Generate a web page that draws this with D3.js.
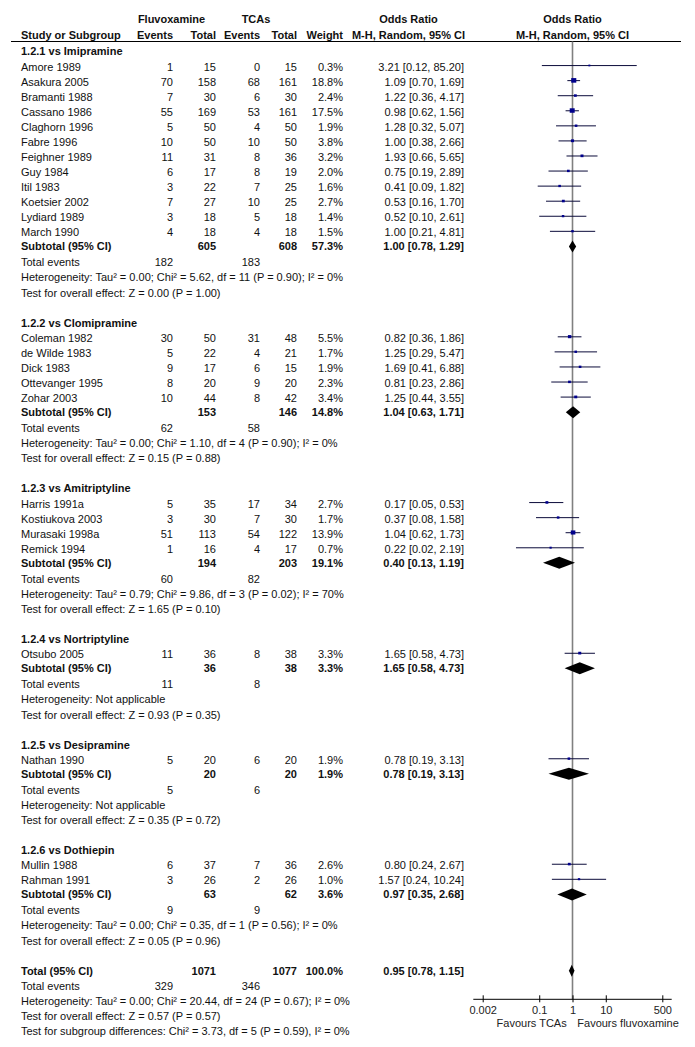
<!DOCTYPE html>
<html><head><meta charset="utf-8">
<script src="https://cdn.jsdelivr.net/npm/d3@7"></script>
<style>
body{margin:0;background:#fff}
svg text{font-family:"Liberation Sans",Arial,sans-serif;font-size:11px;fill:#111}
svg text.b{font-weight:bold}
</style>
</head><body><svg id="c" width="695" height="1047"></svg>
<script>
// ---------------- DATA ----------------
const groupLabels = ["1.2.1 vs Imipramine","1.2.2 vs Clomipramine","1.2.3 vs Amitriptyline","1.2.4 vs Nortriptyline","1.2.5 vs Desipramine","1.2.6 vs Dothiepin"];

const studies = [
  {g:0,name:"Amore 1989",e1:1,n1:15,e2:0,n2:15,w:0.3,or:3.21,lo:0.12,hi:85.20},
  {g:0,name:"Asakura 2005",e1:70,n1:158,e2:68,n2:161,w:18.8,or:1.09,lo:0.70,hi:1.69},
  {g:0,name:"Bramanti 1988",e1:7,n1:30,e2:6,n2:30,w:2.4,or:1.22,lo:0.36,hi:4.17},
  {g:0,name:"Cassano 1986",e1:55,n1:169,e2:53,n2:161,w:17.5,or:0.98,lo:0.62,hi:1.56},
  {g:0,name:"Claghorn 1996",e1:5,n1:50,e2:4,n2:50,w:1.9,or:1.28,lo:0.32,hi:5.07},
  {g:0,name:"Fabre 1996",e1:10,n1:50,e2:10,n2:50,w:3.8,or:1.00,lo:0.38,hi:2.66},
  {g:0,name:"Feighner 1989",e1:11,n1:31,e2:8,n2:36,w:3.2,or:1.93,lo:0.66,hi:5.65},
  {g:0,name:"Guy 1984",e1:6,n1:17,e2:8,n2:19,w:2.0,or:0.75,lo:0.19,hi:2.89},
  {g:0,name:"Itil 1983",e1:3,n1:22,e2:7,n2:25,w:1.6,or:0.41,lo:0.09,hi:1.82},
  {g:0,name:"Koetsier 2002",e1:7,n1:27,e2:10,n2:25,w:2.7,or:0.53,lo:0.16,hi:1.70},
  {g:0,name:"Lydiard 1989",e1:3,n1:18,e2:5,n2:18,w:1.4,or:0.52,lo:0.10,hi:2.61},
  {g:0,name:"March 1990",e1:4,n1:18,e2:4,n2:18,w:1.5,or:1.00,lo:0.21,hi:4.81},
  {g:1,name:"Coleman 1982",e1:30,n1:50,e2:31,n2:48,w:5.5,or:0.82,lo:0.36,hi:1.86},
  {g:1,name:"de Wilde 1983",e1:5,n1:22,e2:4,n2:21,w:1.7,or:1.25,lo:0.29,hi:5.47},
  {g:1,name:"Dick 1983",e1:9,n1:17,e2:6,n2:15,w:1.9,or:1.69,lo:0.41,hi:6.88},
  {g:1,name:"Ottevanger 1995",e1:8,n1:20,e2:9,n2:20,w:2.3,or:0.81,lo:0.23,hi:2.86},
  {g:1,name:"Zohar 2003",e1:10,n1:44,e2:8,n2:42,w:3.4,or:1.25,lo:0.44,hi:3.55},
  {g:2,name:"Harris 1991a",e1:5,n1:35,e2:17,n2:34,w:2.7,or:0.17,lo:0.05,hi:0.53},
  {g:2,name:"Kostiukova 2003",e1:3,n1:30,e2:7,n2:30,w:1.7,or:0.37,lo:0.08,hi:1.58},
  {g:2,name:"Murasaki 1998a",e1:51,n1:113,e2:54,n2:122,w:13.9,or:1.04,lo:0.62,hi:1.73},
  {g:2,name:"Remick 1994",e1:1,n1:16,e2:4,n2:17,w:0.7,or:0.22,lo:0.02,hi:2.19},
  {g:3,name:"Otsubo 2005",e1:11,n1:36,e2:8,n2:38,w:3.3,or:1.65,lo:0.58,hi:4.73},
  {g:4,name:"Nathan 1990",e1:5,n1:20,e2:6,n2:20,w:1.9,or:0.78,lo:0.19,hi:3.13},
  {g:5,name:"Mullin 1988",e1:6,n1:37,e2:7,n2:36,w:2.6,or:0.80,lo:0.24,hi:2.67},
  {g:5,name:"Rahman 1991",e1:3,n1:26,e2:2,n2:26,w:1.0,or:1.57,lo:0.24,hi:10.24}
];

const subtotals = [
  {n1:605,n2:608,w:57.3,or:1.00,lo:0.78,hi:1.29,ev1:182,ev2:183},
  {n1:153,n2:146,w:14.8,or:1.04,lo:0.63,hi:1.71,ev1:62,ev2:58},
  {n1:194,n2:203,w:19.1,or:0.40,lo:0.13,hi:1.19,ev1:60,ev2:82},
  {n1:36,n2:38,w:3.3,or:1.65,lo:0.58,hi:4.73,ev1:11,ev2:8},
  {n1:20,n2:20,w:1.9,or:0.78,lo:0.19,hi:3.13,ev1:5,ev2:6},
  {n1:63,n2:62,w:3.6,or:0.97,lo:0.35,hi:2.68,ev1:9,ev2:9}
];

const heterogeneity = [
  "Heterogeneity: Tau\u00b2 = 0.00; Chi\u00b2 = 5.62, df = 11 (P = 0.90); I\u00b2 = 0%",
  "Heterogeneity: Tau\u00b2 = 0.00; Chi\u00b2 = 1.10, df = 4 (P = 0.90); I\u00b2 = 0%",
  "Heterogeneity: Tau\u00b2 = 0.79; Chi\u00b2 = 9.86, df = 3 (P = 0.02); I\u00b2 = 70%",
  "Heterogeneity: Not applicable",
  "Heterogeneity: Not applicable",
  "Heterogeneity: Tau\u00b2 = 0.00; Chi\u00b2 = 0.35, df = 1 (P = 0.56); I\u00b2 = 0%"
];
const overallEffect = [
  "Test for overall effect: Z = 0.00 (P = 1.00)",
  "Test for overall effect: Z = 0.15 (P = 0.88)",
  "Test for overall effect: Z = 1.65 (P = 0.10)",
  "Test for overall effect: Z = 0.93 (P = 0.35)",
  "Test for overall effect: Z = 0.35 (P = 0.72)",
  "Test for overall effect: Z = 0.05 (P = 0.96)"
];

const total = {n1:1071,n2:1077,w:100.0,or:0.95,lo:0.78,hi:1.15,ev1:329,ev2:346};
const totalTexts = [
  "Heterogeneity: Tau\u00b2 = 0.00; Chi\u00b2 = 20.44, df = 24 (P = 0.67); I\u00b2 = 0%",
  "Test for overall effect: Z = 0.57 (P = 0.57)",
  "Test for subgroup differences: Chi\u00b2 = 3.73, df = 5 (P = 0.59), I\u00b2 = 0%"
];

const axisTicks = [0.002, 0.1, 1, 10, 500];
const favourLabels = ["Favours TCAs", "Favours fluvoxamine"];

// ---------------- LAYOUT ----------------
const svg = d3.select("#c");
const col = {name:21, e1:173, n1:216, e2:260, n2:297, w:343, or:464};
const fmtOR = d => `${d.or.toFixed(2)} [${d.lo.toFixed(2)}, ${d.hi.toFixed(2)}]`;
const fmtW = w => w.toFixed(1) + "%";

// rows
const rows = [];
groupLabels.forEach((g, gi) => {
  rows.push({type:"group", gi});
  studies.filter(s => s.g === gi).forEach(s => rows.push({type:"study", s}));
  rows.push({type:"subtotal", gi});
  rows.push({type:"events", gi});
  rows.push({type:"het", gi});
  rows.push({type:"test", gi});
  rows.push({type:"blank"});
});
rows.push({type:"total"});
rows.push({type:"totalEvents"});
rows.push({type:"totalText", k:0});
rows.push({type:"totalText", k:1});
rows.push({type:"totalText", k:2});

const yRow = d3.scaleLinear().domain([0, rows.length - 1]).range([51.5, 1031]);
rows.forEach((r, i) => { r.y = yRow(i) - (r.type === "subtotal" ? 1 : 0); });

const x = d3.scaleLog().domain([0.002, 500]).range([482.7, 662.3]);
const axisY = 999.3;
const headerLineY = 41.5;

// header
const hdr = svg.append("g");
const h1 = 23.3, h2 = 39;
hdr.append("text").attr("class","b").attr("x",171.5).attr("y",h1).attr("text-anchor","middle").text("Fluvoxamine");
hdr.append("text").attr("class","b").attr("x",256).attr("y",h1).attr("text-anchor","middle").text("TCAs");
hdr.append("text").attr("class","b").attr("x",408.5).attr("y",h1).attr("text-anchor","middle").text("Odds Ratio");
hdr.append("text").attr("class","b").attr("x",x(1)).attr("y",h1).attr("text-anchor","middle").text("Odds Ratio");
hdr.append("text").attr("class","b").attr("x",col.name).attr("y",h2).text("Study or Subgroup");
[["Events",col.e1],["Total",col.n1],["Events",col.e2],["Total",col.n2],["Weight",col.w]].forEach(([t,xx]) =>
  hdr.append("text").attr("class","b").attr("x",xx).attr("y",h2).attr("text-anchor","end").text(t));
hdr.append("text").attr("class","b").attr("x",408.5).attr("y",h2).attr("text-anchor","middle").text("M-H, Random, 95% CI");
hdr.append("text").attr("class","b").attr("x",x(1)).attr("y",h2).attr("text-anchor","middle").text("M-H, Random, 95% CI");
hdr.append("line").attr("x1",11).attr("x2",681).attr("y1",headerLineY).attr("y2",headerLineY).attr("stroke","#000").attr("stroke-width",1);

// vertical line of no effect
svg.append("line").attr("x1",x(1)).attr("x2",x(1)).attr("y1",headerLineY).attr("y2",axisY)
  .attr("stroke","#808080").attr("stroke-width",1.6);

const tg = svg.append("g");
const txt = (xx, yy, t, anchor, bold) => tg.append("text").attr("x",xx).attr("y",yy).attr("dy","0.36em")
  .attr("text-anchor",anchor || "start").attr("class", bold ? "b" : null).text(t);

const marks = svg.append("g");
const diamond = (d, yy) => marks.append("path")
  .attr("d", `M${x(d.lo)},${yy}L${x(d.or)},${yy-6}L${x(d.hi)},${yy}L${x(d.or)},${yy+6}Z`)
  .attr("fill","#000");

rows.forEach(r => {
  const yy = r.y;
  if (r.type === "group") {
    txt(col.name, yy, groupLabels[r.gi], "start", true);
  } else if (r.type === "study") {
    const s = r.s;
    txt(col.name, yy, s.name);
    txt(col.e1, yy, s.e1, "end");
    txt(col.n1, yy, s.n1, "end");
    txt(col.e2, yy, s.e2, "end");
    txt(col.n2, yy, s.n2, "end");
    txt(col.w, yy, fmtW(s.w), "end");
    txt(col.or, yy, fmtOR(s), "end");
    const ym = yy - 1;
    marks.append("line").attr("x1",x(s.lo)).attr("x2",x(s.hi)).attr("y1",ym).attr("y2",ym)
      .attr("stroke","#0b0b3a").attr("stroke-width",1);
    const side = 1.5 + 3.6 * Math.sqrt(s.w / 18.8);
    marks.append("rect").attr("x",x(s.or)-side/2).attr("y",ym-side/2).attr("width",side).attr("height",side*0.9)
      .attr("fill","#00008b");
  } else if (r.type === "subtotal") {
    const d = subtotals[r.gi];
    txt(col.name, yy, "Subtotal (95% CI)", "start", true);
    txt(col.n1, yy, d.n1, "end", true);
    txt(col.n2, yy, d.n2, "end", true);
    txt(col.w, yy, fmtW(d.w), "end", true);
    txt(col.or, yy, fmtOR(d), "end", true);
    diamond(d, yy);
  } else if (r.type === "events") {
    const d = subtotals[r.gi];
    txt(col.name, yy, "Total events");
    txt(col.e1, yy, d.ev1, "end");
    txt(col.e2, yy, d.ev2, "end");
  } else if (r.type === "het") {
    txt(col.name, yy, heterogeneity[r.gi]);
  } else if (r.type === "test") {
    txt(col.name, yy, overallEffect[r.gi]);
  } else if (r.type === "total") {
    txt(col.name, yy, "Total (95% CI)", "start", true);
    txt(col.n1, yy, total.n1, "end", true);
    txt(col.n2, yy, total.n2, "end", true);
    txt(col.w, yy, fmtW(total.w), "end", true);
    txt(col.or, yy, fmtOR(total), "end", true);
    diamond(total, yy);
  } else if (r.type === "totalEvents") {
    txt(col.name, yy, "Total events");
    txt(col.e1, yy, total.ev1, "end");
    txt(col.e2, yy, total.ev2, "end");
  } else if (r.type === "totalText") {
    txt(col.name, yy, totalTexts[r.k]);
  }
});

// axis
const ax = svg.append("g").attr("transform",`translate(0,${axisY})`);
ax.append("line").attr("x1",x.range()[0]-9.4).attr("x2",x.range()[1]+9.4).attr("y1",0).attr("y2",0)
  .attr("stroke","#000").attr("stroke-width",1);
const axis = d3.axisBottom(x).tickValues(axisTicks).tickFormat(d => String(d)).tickSizeOuter(0);
const axg = ax.append("g").call(axis);
axg.select(".domain").remove();
axg.selectAll(".tick line").attr("y1",-4).attr("y2",3).attr("stroke","#000");
axg.selectAll(".tick text").attr("y",10.8).attr("dy","0.36em").attr("font-size",null).attr("font-family",null).style("fill","#222");
axg.attr("font-size",null).attr("font-family",null);

svg.append("defs").append("clipPath").attr("id","clipR").append("rect").attr("x",0).attr("y",0).attr("width",681).attr("height",1047);
svg.append("text").attr("x",566.7).attr("y",1022.7).attr("dy","0.36em").attr("text-anchor","end").style("fill","#222").text(favourLabels[0]);
svg.append("text").attr("x",577.3).attr("y",1022.7).attr("dy","0.36em").attr("clip-path","url(#clipR)").style("fill","#222").text(favourLabels[1]);
</script>
</body></html>
